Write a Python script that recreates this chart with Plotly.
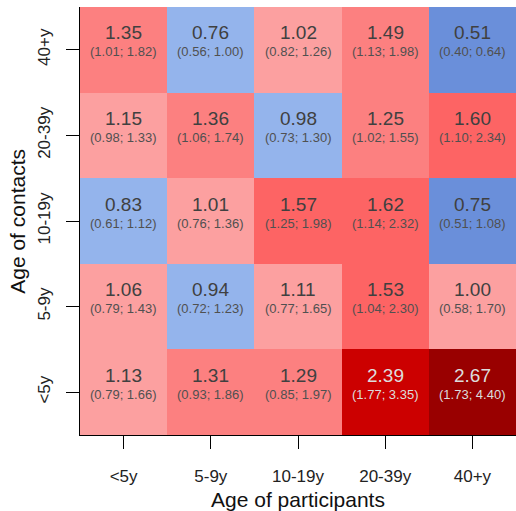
import numpy as np
import plotly.graph_objects as go

participants = ["<5y", "5-9y", "10-19y", "20-39y", "40+y"]
contacts = ["<5y", "5-9y", "10-19y", "20-39y", "40+y"]

# rows = contacts (bottom to top), columns = participants
values = [
    [1.13, 1.31, 1.29, 2.39, 2.67],
    [1.06, 0.94, 1.11, 1.53, 1.00],
    [0.83, 1.01, 1.57, 1.62, 0.75],
    [1.15, 1.36, 0.98, 1.25, 1.60],
    [1.35, 0.76, 1.02, 1.49, 0.51],
]
lower = [
    [0.79, 0.93, 0.85, 1.77, 1.73],
    [0.79, 0.72, 0.77, 1.04, 0.58],
    [0.61, 0.76, 1.25, 1.14, 0.51],
    [0.98, 1.06, 0.73, 1.02, 1.10],
    [1.01, 0.56, 0.82, 1.13, 0.40],
]
upper = [
    [1.66, 1.86, 1.97, 3.35, 4.40],
    [1.43, 1.23, 1.65, 2.30, 1.70],
    [1.12, 1.36, 1.98, 2.32, 1.08],
    [1.33, 1.74, 1.30, 1.55, 2.34],
    [1.82, 1.00, 1.26, 1.98, 0.64],
]

breaks = [0.755, 0.995, 1.245, 1.495, 1.995, 2.495]
bin_colors = ["#6a8fda", "#94b4ec", "#fca0a0", "#fc8080", "#fd6464", "#cc0000", "#990000"]

vals = np.array(values)
bins = np.digitize(vals, breaks)
n = len(bin_colors)
colorscale = []
for i, c in enumerate(bin_colors):
    colorscale.append([i / n, c])
    colorscale.append([(i + 1) / n, c])

fig = go.Figure(go.Heatmap(
    x=participants, y=contacts, z=bins,
    colorscale=colorscale, zmin=-0.5, zmax=n - 0.5,
    showscale=False, hoverinfo="skip", xgap=0, ygap=0,
))

annotations = []
for r, cy in enumerate(contacts):
    for c, cx in enumerate(participants):
        dark = bins[r][c] >= 5
        vcol = "#dddddd" if dark else "#404040"
        ccol = "#dddddd" if dark else "#505050"
        annotations.append(dict(
            x=cx, y=cy, xref="x", yref="y", text=f"{values[r][c]:.2f}",
            showarrow=False, yshift=17,
            font=dict(family="Liberation Sans, Arial", size=19, color=vcol)))
        annotations.append(dict(
            x=cx, y=cy, xref="x", yref="y",
            text=f"({lower[r][c]:.2f}; {upper[r][c]:.2f})",
            showarrow=False, yshift=-2,
            font=dict(family="Liberation Sans, Arial", size=13, color=ccol)))

annotations.append(dict(
    x=0.5, y=-0.15, xref="paper", yref="paper", text="Age of participants",
    showarrow=False, xanchor="center", yanchor="middle",
    font=dict(family="Liberation Sans, Arial", size=21, color="#111111")))
annotations.append(dict(
    x=-0.145, y=0.5, xref="paper", yref="paper", text="Age of contacts",
    showarrow=False, xanchor="center", yanchor="middle", textangle=-90,
    font=dict(family="Liberation Sans, Arial", size=21, color="#111111")))

fig.update_layout(
    width=516, height=511,
    margin=dict(l=80, r=0, t=7, b=76, autoexpand=False),
    plot_bgcolor="white", paper_bgcolor="white",
    annotations=annotations,
    font=dict(family="Liberation Sans, Arial", size=16, color="#222222"),
)
fig.update_xaxes(showline=True, linecolor="black", linewidth=1, ticks="outside",
                 ticklen=13, tickcolor="black", showgrid=False, zeroline=False,
                 ticklabelstandoff=13, tickfont=dict(size=17), automargin=False)
fig.update_yaxes(showline=True, linecolor="black", linewidth=1, ticks="outside",
                 ticklen=13, tickcolor="black", showgrid=False, zeroline=False,
                 tickangle=-90, ticklabelstandoff=9, tickfont=dict(size=17),
                 automargin=False)

fig.write_html("out.html", config={"displayModeBar": False},
               post_script="document.body.style.margin='0px';document.body.style.overflow='hidden';")
